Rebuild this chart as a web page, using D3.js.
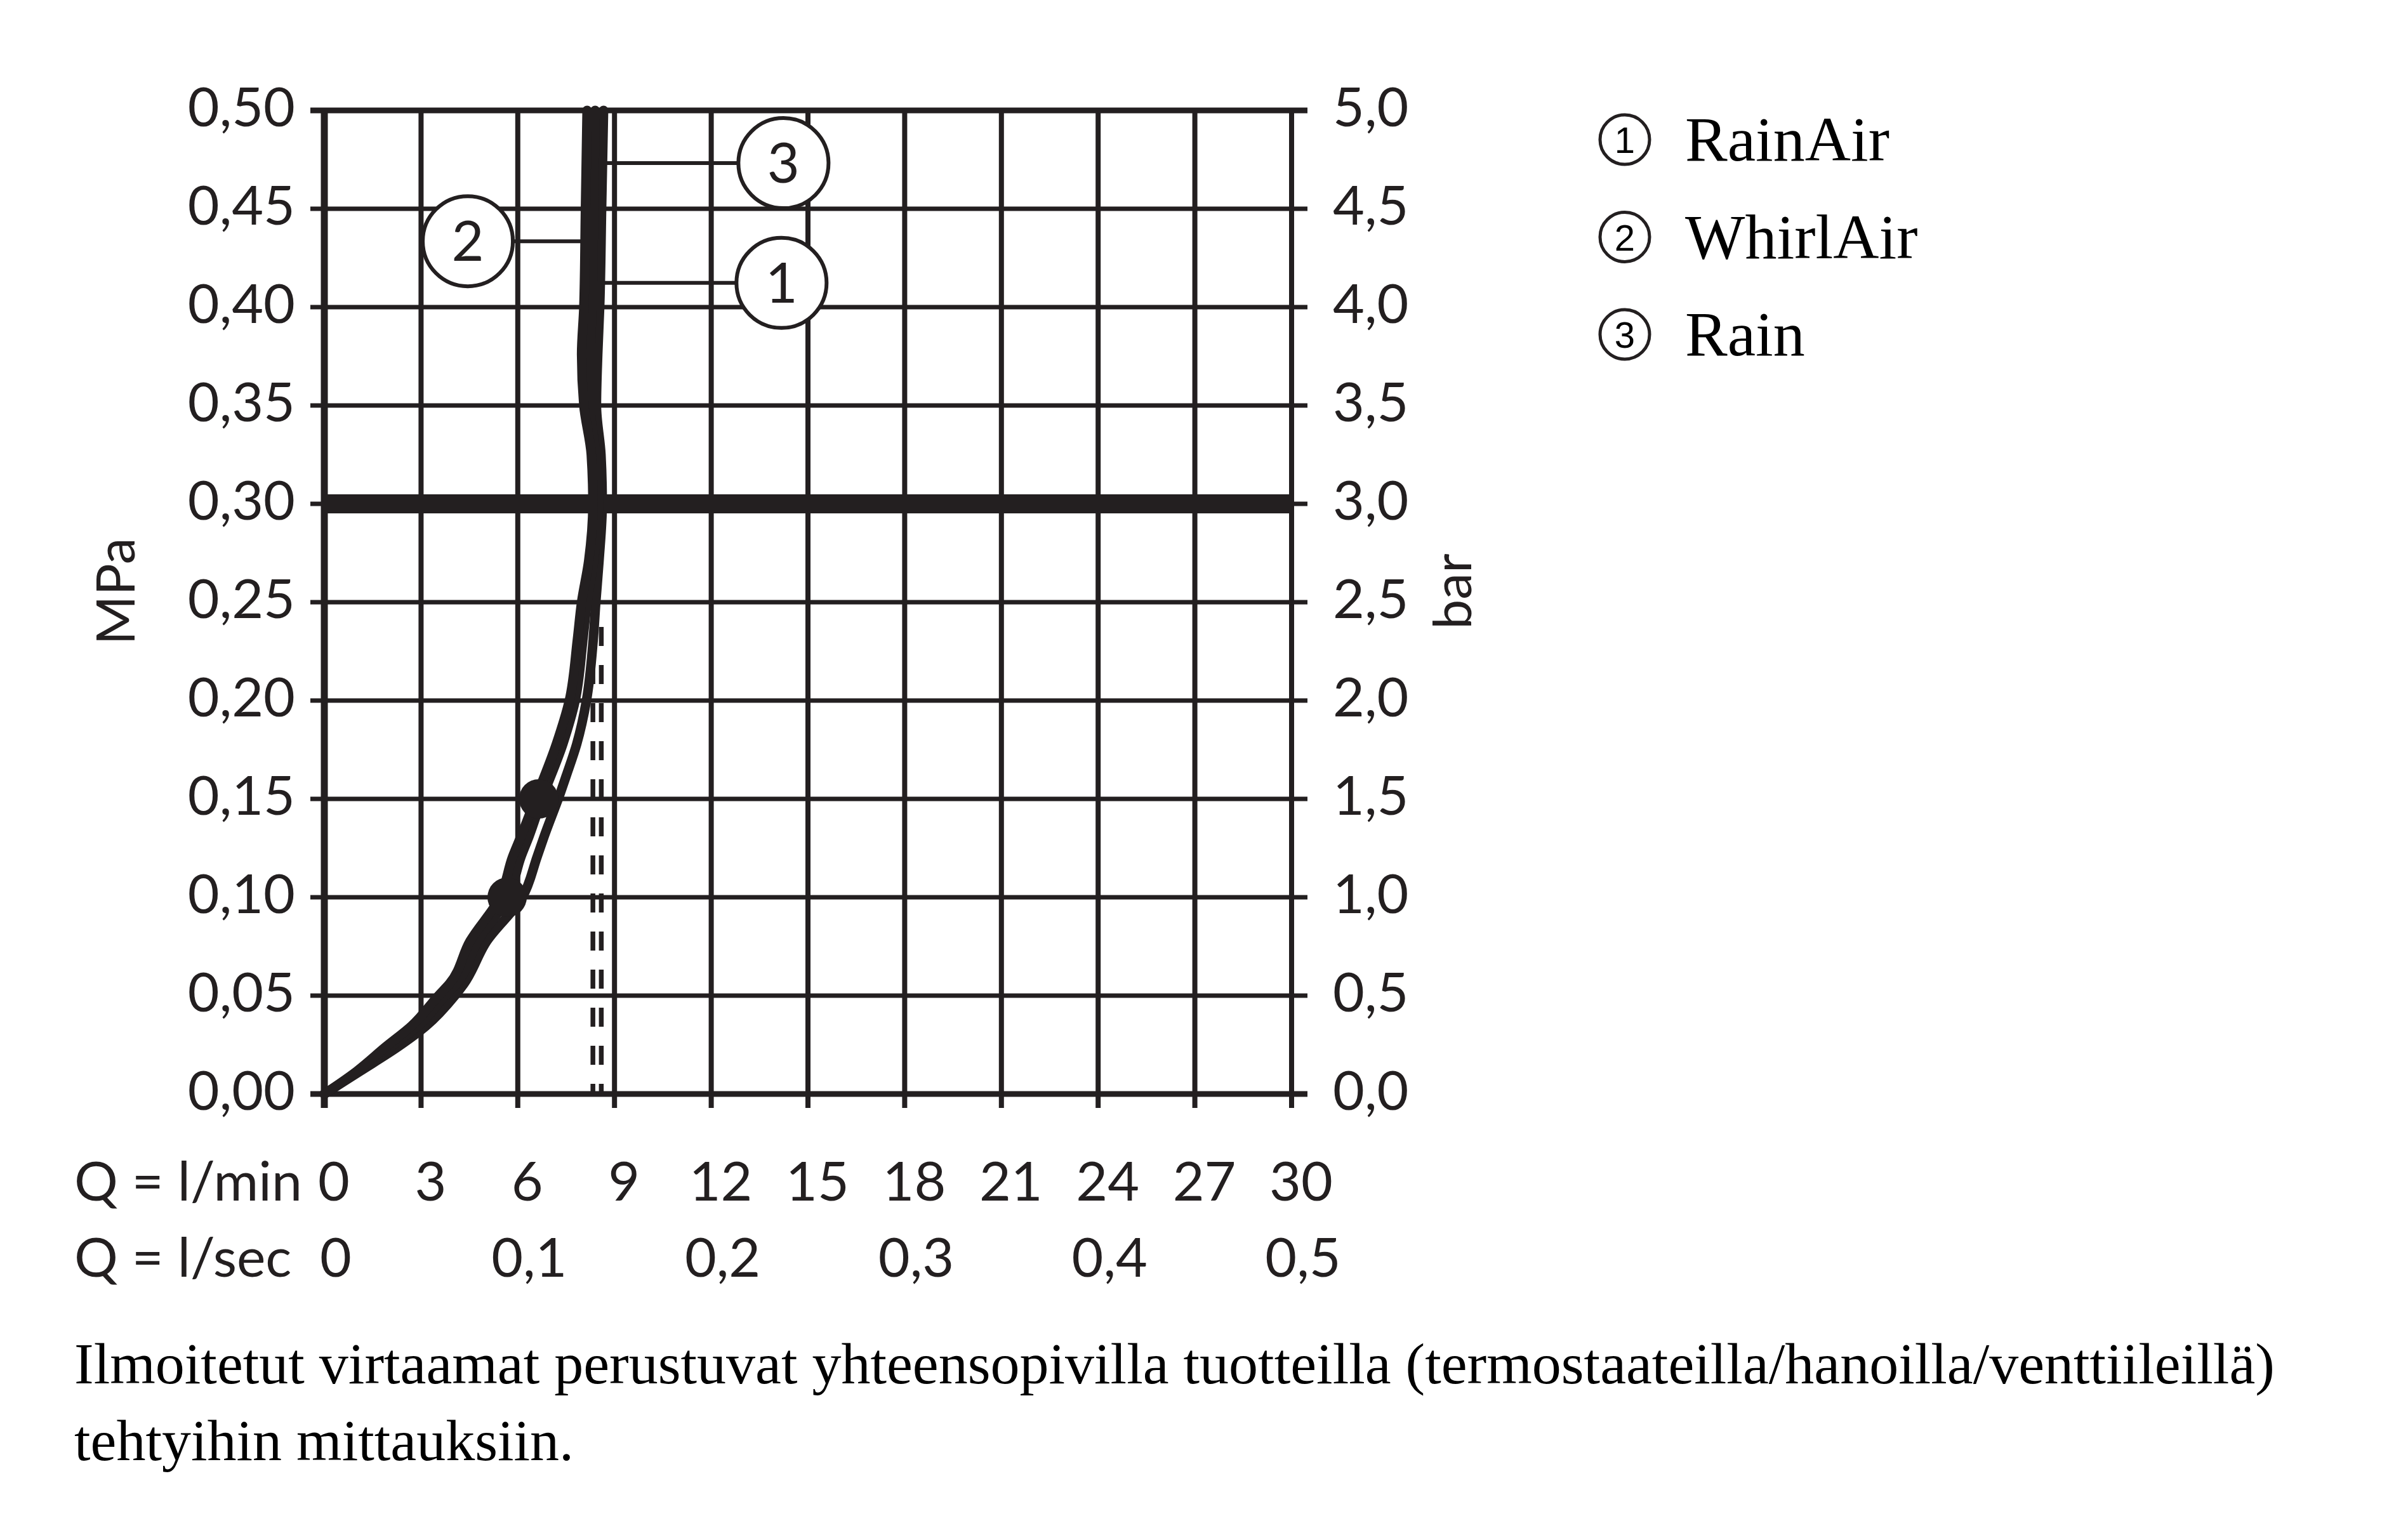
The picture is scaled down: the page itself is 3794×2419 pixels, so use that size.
<!DOCTYPE html>
<html><head><meta charset="utf-8">
<script src="https://cdn.jsdelivr.net/npm/d3@7"></script>
<style>html,body{margin:0;padding:0;background:#fff}svg{display:block}</style>
</head><body><svg id="c" width="3794" height="2419"></svg>
<script>
// ---------- data ----------
const flowTicksMin = [0,3,6,9,12,15,18,21,24,27,30];
const flowTicksSec = [0,0.1,0.2,0.3,0.4,0.5];
const flowSecLabels = ["0","0,1","0,2","0,3","0,4","0,5"];
const pressureTicks = [0,0.05,0.10,0.15,0.20,0.25,0.30,0.35,0.40,0.45,0.50];
const mpaLabels = ["0,00","0,05","0,10","0,15","0,20","0,25","0,30","0,35","0,40","0,45","0,50"];
const barLabels = ["0,0","0,5","1,0","1,5","2,0","2,5","3,0","3,5","4,0","4,5","5,0"];
const seriesNames = ["RainAir","WhirlAir","Rain"];
const seriesNumbers = ["1","2","3"];
// [flow l/min, pressure MPa]
const rainAir = [[0,0],[1.05,0.0115],[2.05,0.0239],[2.9,0.0345],[3.75,0.05],[4.1,0.056],[4.75,0.0777],[5.7,0.10],[6.1,0.1206],[6.35,0.131],[6.75,0.15],[7.4,0.178],[7.78,0.20],[8.02,0.231],[8.15,0.25],[8.35,0.271],[8.5,0.30],[8.42,0.325],[8.24,0.35],[8.25,0.376],[8.3,0.40],[8.35,0.45],[8.4,0.50]];
const whirlAir = [[0,0],[1.0,0.0115],[1.9,0.0239],[2.7,0.0345],[3.54,0.05],[3.88,0.056],[4.52,0.0777],[5.45,0.10],[5.84,0.1206],[6.1,0.131],[6.55,0.15],[7.2,0.178],[7.6,0.20],[7.85,0.231],[7.98,0.25],[8.2,0.271],[8.33,0.30],[8.28,0.325],[8.05,0.35],[7.98,0.376],[8.05,0.40],[8.1,0.45],[8.15,0.50]];
const rain = [[0,0],[1.1,0.0115],[2.28,0.0239],[3.15,0.0345],[4.05,0.05],[4.33,0.056],[5.04,0.0777],[6.14,0.10],[6.6,0.1206],[6.82,0.131],[7.32,0.153],[7.5,0.1616],[7.83,0.178],[8.13,0.20],[8.34,0.231],[8.42,0.25],[8.52,0.271],[8.62,0.30],[8.58,0.325],[8.44,0.35],[8.48,0.376],[8.54,0.40],[8.6,0.45],[8.66,0.50]];
const markerPoints = [[5.67,0.10],[6.65,0.15]];
const limiterFlows = [8.33,8.59];
const limiterTop = 0.245;
const referencePressure = 0.30;
// callouts: number, circle centre (flow, MPa), leader end on curve (flow)
const callouts = [
  {n:"3", cq:14.24, cp:0.4732, lq:8.75},
  {n:"2", cq:4.45,  cp:0.4335, lq:7.99},
  {n:"1", cq:14.18, cp:0.4123, lq:8.68}
];
const captionLines = [
  "Ilmoitetut virtaamat perustuvat yhteensopivilla tuotteilla (termostaateilla/hanoilla/venttiileillä)",
  "tehtyihin mittauksiin."
];

// ---------- drawing ----------
const ink = "#231f20";
const svg = d3.select("#c");
svg.append("rect").attr("width",3794).attr("height",2419).attr("fill","#fff");
const x = d3.scaleLinear().domain([0,30]).range([511,2035]);
const xs = d3.scaleLinear().domain([0,0.5]).range([511,2035]);
const y = d3.scaleLinear().domain([0,0.5]).range([1724,174]);
const sans = "Lato, 'Open Sans', 'DejaVu Sans', sans-serif";
const serif = "'Liberation Serif', 'Times New Roman', serif";
const g = svg.append("g");

// vertical grid + bottom ticks
g.selectAll(".vg").data(flowTicksMin).join("line")
  .attr("x1",d=>x(d)).attr("x2",d=>x(d))
  .attr("y1",y(0.5)).attr("y2",y(0)+22)
  .attr("stroke",ink).attr("stroke-width",d=>d===0?11:8);
// horizontal grid + left/right ticks
g.selectAll(".hg").data(pressureTicks).join("line")
  .attr("x1",x(0)-22).attr("x2",x(30)+25)
  .attr("y1",d=>y(d)).attr("y2",d=>y(d))
  .attr("stroke",ink).attr("stroke-width",d=>(d===0||d===0.5)?9:7);
// reference pressure line
g.append("line").attr("x1",x(0)).attr("x2",x(30))
  .attr("y1",y(referencePressure)).attr("y2",y(referencePressure))
  .attr("stroke",ink).attr("stroke-width",30);

// flow limiter double dashed line
g.selectAll(".lim").data(limiterFlows).join("line")
  .attr("x1",d=>x(d)).attr("x2",d=>x(d))
  .attr("y1",y(0)).attr("y2",y(limiterTop))
  .attr("stroke",ink).attr("stroke-width",7.5)
  .attr("stroke-dasharray","30,30").attr("stroke-dashoffset",14);

// curves
const line = d3.line().x(d=>x(d[0])).y(d=>y(d[1])).curve(d3.curveMonotoneY);
[rain, rainAir, whirlAir].forEach(s=>{
  g.append("path").attr("d",line(s)).attr("fill","none")
   .attr("stroke",ink).attr("stroke-width",15)
   .attr("stroke-linejoin","round").attr("stroke-linecap","round");
});
g.selectAll(".mk").data(markerPoints).join("circle")
  .attr("cx",d=>x(d[0])).attr("cy",d=>y(d[1])).attr("r",31).attr("fill",ink);

// callouts
callouts.forEach(c=>{
  const cx = x(c.cq), cy = y(c.cp), r = 71;
  const edge = c.cq > c.lq ? cx - r : cx + r;
  g.append("line").attr("x1",x(c.lq)).attr("x2",edge).attr("y1",cy).attr("y2",cy)
    .attr("stroke",ink).attr("stroke-width",6);
  g.append("circle").attr("cx",cx).attr("cy",cy).attr("r",r)
    .attr("fill","#fff").attr("stroke",ink).attr("stroke-width",6);
  g.append("text").attr("x",cx).attr("y",cy+31).attr("text-anchor","middle")
    .attr("font-family",sans).attr("font-size",88).attr("fill",ink).text(c.n);
});

// left labels
g.selectAll(".ml").data(pressureTicks).join("text")
  .attr("x",465).attr("y",d=>y(d)+25).attr("text-anchor","end")
  .attr("font-family",sans).attr("font-size",86).attr("fill",ink)
  .text((d,i)=>mpaLabels[i]);
// right labels
g.selectAll(".bl").data(pressureTicks).join("text")
  .attr("x",2100).attr("y",d=>y(d)+25).attr("text-anchor","start")
  .attr("font-family",sans).attr("font-size",86).attr("fill",ink)
  .text((d,i)=>barLabels[i]);
// axis titles
g.append("text").attr("transform","translate(212,932) rotate(-90)").attr("text-anchor","middle")
  .attr("font-family",sans).attr("font-size",84).attr("fill",ink).text("MPa");
g.append("text").attr("transform","translate(2318,932) rotate(-90)").attr("text-anchor","middle")
  .attr("font-family",sans).attr("font-size",84).attr("fill",ink).text("bar");

// bottom labels
g.append("text").attr("x",117).attr("y",1892).attr("text-anchor","start")
  .attr("font-family",sans).attr("font-size",86).attr("fill",ink).text("Q = l/min");
g.selectAll(".fx").data(flowTicksMin).join("text")
  .attr("x",d=>x(d)+15).attr("y",1892).attr("text-anchor","middle")
  .attr("font-family",sans).attr("font-size",86).attr("fill",ink).text(d=>d);
g.append("text").attr("x",117).attr("y",2012).attr("text-anchor","start")
  .attr("font-family",sans).attr("font-size",86).attr("fill",ink).text("Q = l/sec");
g.selectAll(".fs").data(flowTicksSec).join("text")
  .attr("x",d=>xs(d)+18).attr("y",2012).attr("text-anchor","middle")
  .attr("font-family",sans).attr("font-size",86).attr("fill",ink)
  .text((d,i)=>flowSecLabels[i]);

// legend
seriesNames.forEach((name,i)=>{
  const by = 253 + i*153.5;
  g.append("circle").attr("cx",2560).attr("cy",by-33).attr("r",39)
    .attr("fill","none").attr("stroke",ink).attr("stroke-width",5);
  g.append("text").attr("x",2560).attr("y",by-12).attr("text-anchor","middle")
    .attr("font-family","'Liberation Sans', Arial, sans-serif").attr("font-size",58).attr("fill","#000").text(seriesNumbers[i]);
  g.append("text").attr("x",2655).attr("y",by)
    .attr("font-family",serif).attr("font-size",100).attr("fill","#000").text(name);
});

// caption
captionLines.forEach((t,i)=>{
  g.append("text").attr("x",117).attr("y",2180+i*121)
    .attr("font-family",serif).attr("font-size",92).attr("fill","#000").text(t);
});
</script></body></html>
